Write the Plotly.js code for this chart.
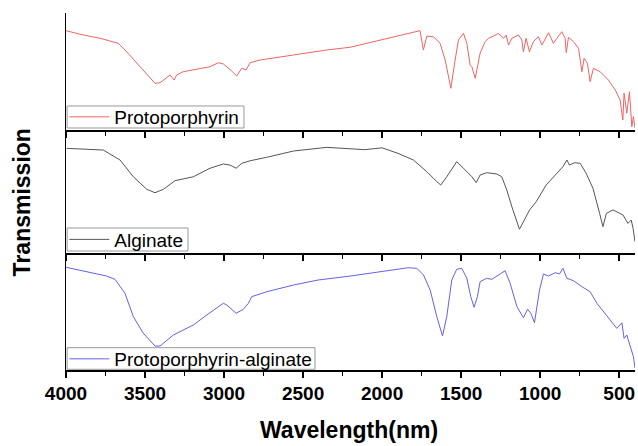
<!DOCTYPE html>
<html>
<head>
<meta charset="utf-8">
<script src="https://cdn.plot.ly/plotly-3.0.1.min.js"></script>
<style>html,body{margin:0;padding:0;background:#fff;}#chart{width:638px;height:446px;}</style>
</head>
<body>
<div id="chart"></div>
<script>
// Protoporphyrin (top panel)
const protoX = [4000,3900,3785,3669,3600,3532,3470,3437,3405,3342,3316,3300,3258,3089,3036,3004,2960,2920,2888,2861,2835,2772,2561,2350,2203,2050,1886,1760,1739,1717,1675,1633,1601,1565,1538,1517,1485,1464,1443,1432,1411,1380,1348,1327,1295,1264,1232,1215,1200,1179,1137,1116,1106,1089,1068,1043,1011,989,947,916,894,863,842,835,821,789,757,736,722,701,684,663,620,568,525,494,477,469,452,435,420,410,400];
const protoY = [84.9,81.5,78.4,74.1,64.5,54.1,45.5,39.9,40.4,47.0,42.7,47.0,49.8,54.1,57.5,56.4,51.5,46.2,52.7,51.3,57.5,59.8,64.1,68.4,70.7,75.5,81.2,84.9,68.4,80.3,79.7,74.1,59.8,35.6,59.8,76.9,82.6,74.1,55.6,54.1,44.2,65.6,75.5,78.4,80.3,82.6,78.4,81.2,72.6,78.4,81.2,76.9,66.9,78.4,66.9,75.5,79.7,72.6,83.2,74.1,78.4,84.0,78.4,66.1,79.2,75.5,69.8,49.8,61.3,57.0,41.3,52.7,49.8,42.7,34.2,25.6,8.5,31.4,14.3,32.7,2.8,11.4,1.7];

// Alginate (middle panel)
const algX = [3996,3764,3722,3658,3574,3489,3437,3384,3310,3194,3089,3004,2962,2924,2888,2835,2730,2561,2350,2203,2110,2000,1899,1802,1717,1654,1629,1591,1528,1485,1432,1405,1380,1338,1274,1243,1211,1179,1131,1067,1025,962,898,856,831,815,783,747,709,666,624,603,581,539,476,445,424,412,400];
const algY = [85.1,83.7,80.5,75.6,62.0,51.8,49.0,51.8,58.8,62.0,68.9,72.4,71.5,68.9,72.9,75.0,77.8,82.9,85.9,84.6,84.0,85.5,81.0,75.6,66.1,58.0,55.3,62.0,74.2,68.9,62.0,57.2,63.4,65.3,64.2,62.0,51.2,37.6,19.3,35.0,41.7,55.3,64.8,70.2,75.6,71.5,73.4,72.9,64.8,52.6,32.3,21.4,32.3,35.0,30.9,24.1,26.8,20.0,9.2];

// Protoporphyrin-alginate (bottom panel)
const paX = [4000,3827,3742,3690,3627,3574,3511,3437,3405,3321,3194,3089,3004,2983,2924,2878,2846,2825,2730,2561,2405,2203,2050,1886,1835,1780,1738,1696,1654,1618,1591,1559,1528,1496,1464,1439,1418,1397,1380,1338,1306,1253,1222,1190,1147,1106,1080,1059,1036,1004,979,947,905,878,856,831,789,736,684,641,599,557,515,483,469,452,431,410,400];
const paY = [87.8,83.2,80.3,77.5,65.6,45.6,31.4,20.5,20.5,29.9,38.5,49.0,57.0,55.6,48.5,51.9,57.0,62.7,66.9,72.6,76.9,80.3,83.5,86.9,87.4,86.9,81.2,68.4,45.6,29.1,45.6,76.9,86.1,86.9,78.4,62.7,53.6,62.7,75.5,78.4,77.5,82.1,84.9,74.1,54.1,44.7,51.9,48.5,40.4,68.4,82.1,80.3,83.2,82.1,86.9,78.4,76.3,71.2,66.9,57.0,49.8,42.7,35.6,40.4,27.1,29.9,19.9,11.4,1.5];

const names = ["Protoporphyrin","Alginate","Protoporphyrin-alginate"];
const colors = ["#ee6464","#555555","#6262e6"];
const FONT = "Arial, 'Liberation Sans', sans-serif";

const traces = [
  {x: protoX, y: protoY, name: names[0], xaxis: "x3", yaxis: "y3", legend: "legend",
   type: "scatter", mode: "lines", line: {color: colors[0], width: 1}},
  {x: algX, y: algY, name: names[1], xaxis: "x2", yaxis: "y2", legend: "legend2",
   type: "scatter", mode: "lines", line: {color: colors[1], width: 1}},
  {x: paX, y: paY, name: names[2], xaxis: "x", yaxis: "y", legend: "legend3",
   type: "scatter", mode: "lines", line: {color: colors[2], width: 1}}
];

function xax(anchor, labels) {
  return {
    anchor: anchor, range: [4000, 400], autorange: false,
    showgrid: false, zeroline: false, showline: true, linecolor: "#000", linewidth: 1.5,
    ticks: "outside", ticklen: 6, tickwidth: 1.5, tickcolor: "#000",
    tick0: 0, dtick: 500, showticklabels: labels,
    tickfont: {family: FONT, size: 19, color: "#000", weight: "bold"},
    minor: {dtick: 250, ticks: "outside", ticklen: 4, tickwidth: 1.5, tickcolor: "#000", showgrid: false}
  };
}
function yax(domain) {
  return {
    domain: domain, range: [0, 100], showgrid: false, zeroline: false,
    showline: true, linecolor: "#000", linewidth: 1.5, ticks: "", showticklabels: false
  };
}
function leg(y) {
  return {
    x: -0.003, y: y, xanchor: "left", yanchor: "middle", bgcolor: "rgba(0,0,0,0)",
    borderwidth: 0, font: {family: FONT, size: 19, color: "#000"},
    itemwidth: 40, tracegroupgap: 0
  };
}
function box(x1, y0, y1) {
  return {type: "rect", xref: "paper", yref: "paper", x0: 0.002, x1: x1, y0: y0, y1: y1,
          line: {color: "#999", width: 1}, fillcolor: "#fff", layer: "above"};
}

const d1 = (370 - 253) / 357, d2 = (370 - 130) / 357;

const layout = {
  width: 638, height: 446,
  margin: {l: 66, r: 3, t: 13, b: 76},
  paper_bgcolor: "#fff", plot_bgcolor: "#fff",
  showlegend: true,
  xaxis: xax("y", true),
  xaxis2: Object.assign(xax("y2", false), {matches: "x"}),
  xaxis3: Object.assign(xax("y3", false), {matches: "x"}),
  yaxis: yax([0, d1]),
  yaxis2: yax([d1, d2]),
  yaxis3: yax([d2, 1]),
  legend: leg(0.7087),
  legend2: leg(0.3655),
  legend3: leg(0.0308),
  shapes: [
    box(0.3128, 0.6779, 0.7395),
    box(0.2144, 0.3333, 0.3978),
    box(0.4376, 0.002, 0.0625)
  ],
  annotations: [
    {text: "Transmission", xref: "paper", yref: "paper", x: -0.077, y: 0.47,
     xanchor: "center", yanchor: "middle", textangle: -90, showarrow: false,
     font: {family: FONT, size: 23, color: "#000", weight: "bold"}},
    {text: "Wavelength(nm)", xref: "paper", yref: "paper", x: 0.497, y: -0.168,
     xanchor: "center", yanchor: "middle", showarrow: false,
     font: {family: FONT, size: 23, color: "#000", weight: "bold"}}
  ]
};

Plotly.newPlot("chart", traces, layout, {displayModeBar: false, staticPlot: true});
</script>
</body>
</html>
